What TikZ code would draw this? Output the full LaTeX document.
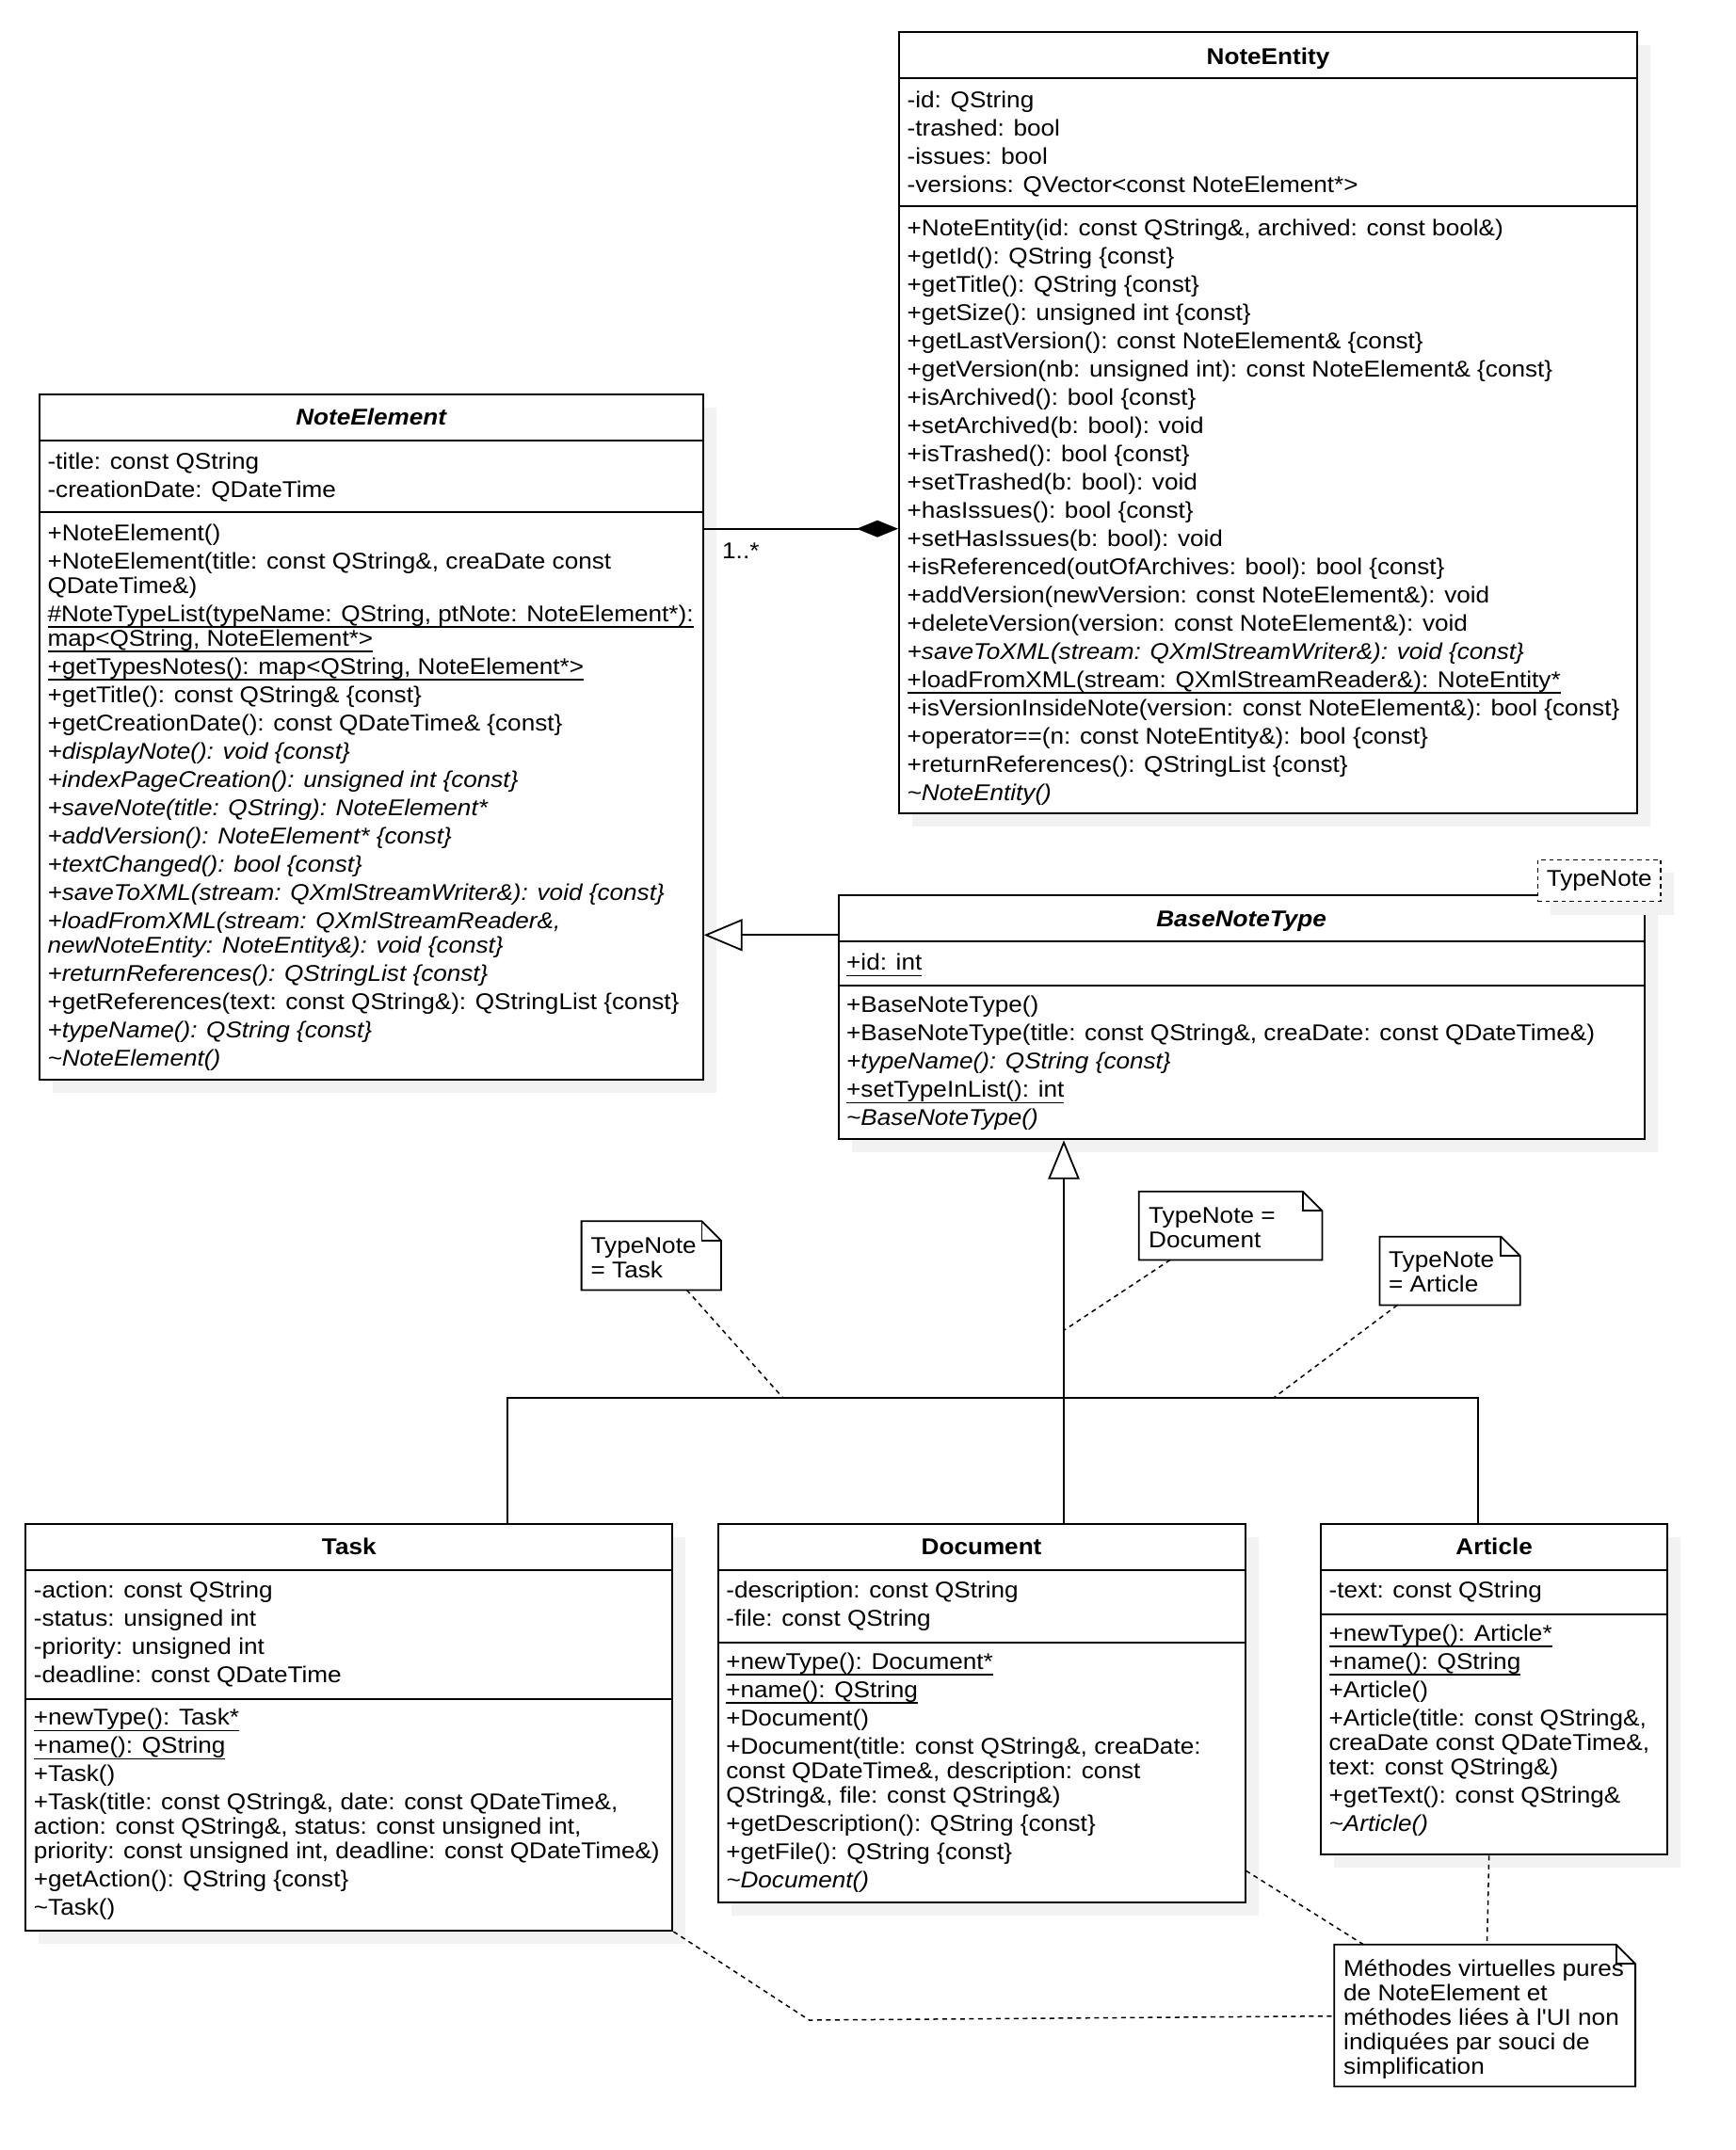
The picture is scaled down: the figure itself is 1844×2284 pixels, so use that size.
\documentclass[tikz,border=0pt]{standalone}
\usepackage{fontspec}
\newfontfamily\uml{Liberation Sans}[FakeStretch=1.08]
\usetikzlibrary{arrows.meta,shadows}
\newcommand\umlsize{\fontsize{24.2pt}{30pt}\selectfont}
\newcommand\notesize{\fontsize{24.2pt}{26pt}\selectfont}
\newcommand\is{\rule[-8pt]{0pt}{30pt}}
\newcommand\ns{\rule[-6.5pt]{0pt}{26pt}}
\newcommand\ulx[1]{\setbox0\hbox{#1}\rlap{\rule[-6.5pt]{\wd0}{1.6pt}}\box0}
\newcommand\wrap{\\[-4pt]}
\newcommand\tld{\textasciitilde}
\begin{document}
\begin{tikzpicture}[x=1pt,y=-1pt,
  every node/.style={font=\uml\umlsize},
  classbox/.style={draw=black,line width=2pt,fill=white,inner sep=0pt,anchor=north west,
    drop shadow={shadow xshift=14pt,shadow yshift=-14pt,fill=black!5,opacity=1}},
  sepline/.style={line width=2pt},
  title/.style={anchor=base,inner sep=0pt,font=\uml\umlsize\bfseries},
  comp/.style={anchor=north west,inner sep=0pt,align=left},
  notebox/.style={inner sep=0pt,anchor=north west},
  noteline/.style={draw=black,line width=1.8pt,fill=white,line join=miter},
  notetext/.style={anchor=north west,inner sep=0pt,align=left,font=\uml\notesize},
  conn/.style={line width=1.8pt},
  anchorline/.style={line width=1.5pt,dash pattern=on 5pt off 4.5pt},
  tmpl/.style={draw=black,line width=1.5pt,dash pattern=on 4.5pt off 4pt,fill=white,
    minimum width=130.7pt,minimum height=44.4pt,inner sep=0pt,text height=17pt,text depth=5pt,
    drop shadow={shadow xshift=14pt,shadow yshift=-14pt,fill=black!5,opacity=1}},
  lbl/.style={inner sep=0pt,anchor=base west}
]
\useasboundingbox[fill=white] (0,0) rectangle (1844,2284);

% ---------------- NoteEntity ----------------
\node[classbox,minimum width=784pt,minimum height=829.7pt] (noteentity) at (954,33.3) {};
\draw[sepline] (noteentity.west |- 0,83) -- (noteentity.east |- 0,83);
\draw[sepline] (noteentity.west |- 0,219.3) -- (noteentity.east |- 0,219.3);
\node[title] (noteentity-t) at (noteentity.north |- 0,68.3) {NoteEntity};
\node[comp] (noteentity-a) at (963.5,92.3) {\is-id: QString\\-trashed: bool\\-issues: bool\\-versions: QVector<const NoteElement*>};
\node[comp] (noteentity-m) at (963.5,228) {\is+NoteEntity(id: const QString\&, archived: const bool\&)\\
+getId(): QString \{const\}\\
+getTitle(): QString \{const\}\\
+getSize(): unsigned int \{const\}\\
+getLastVersion(): const NoteElement\& \{const\}\\
+getVersion(nb: unsigned int): const NoteElement\& \{const\}\\
+isArchived(): bool \{const\}\\
+setArchived(b: bool): void\\
+isTrashed(): bool \{const\}\\
+setTrashed(b: bool): void\\
+hasIssues(): bool \{const\}\\
+setHasIssues(b: bool): void\\
+isReferenced(outOfArchives: bool): bool \{const\}\\
+addVersion(newVersion: const NoteElement\&): void\\
+deleteVersion(version: const NoteElement\&): void\\
\textit{+saveToXML(stream: QXmlStreamWriter\&): void \{const\}}\\
\ulx{+loadFromXML(stream: QXmlStreamReader\&): NoteEntity*}\\
+isVersionInsideNote(version: const NoteElement\&): bool \{const\}\\
+operator==(n: const NoteEntity\&): bool \{const\}\\
+returnReferences(): QStringList \{const\}\\
\textit{\tld NoteEntity()}};

% ---------------- NoteElement ----------------
\node[classbox,minimum width=704.9pt,minimum height=728.3pt] (noteelement) at (40.8,417.7) {};
\draw[sepline] (noteelement.west |- 0,467.7) -- (noteelement.east |- 0,467.7);
\draw[sepline] (noteelement.west |- 0,544) -- (noteelement.east |- 0,544);
\node[title] (noteelement-t) at (noteelement.north |- 0,451.7) {\itshape NoteElement};
\node[comp] (noteelement-a) at (50.3,476.3) {\is-title: const QString\\-creationDate: QDateTime};
\node[comp] (noteelement-m) at (50.3,552.3) {\is+NoteElement()\\
+NoteElement(title: const QString\&, creaDate const\wrap
QDateTime\&)\\
\ulx{\#NoteTypeList(typeName: QString, ptNote: NoteElement*):}\wrap
\ulx{map<QString, NoteElement*>}\\
\ulx{+getTypesNotes(): map<QString, NoteElement*>}\\
+getTitle(): const QString\& \{const\}\\
+getCreationDate(): const QDateTime\& \{const\}\\
\textit{+displayNote(): void \{const\}}\\
\textit{+indexPageCreation(): unsigned int \{const\}}\\
\textit{+saveNote(title: QString): NoteElement*}\\
\textit{+addVersion(): NoteElement* \{const\}}\\
\textit{+textChanged(): bool \{const\}}\\
\textit{+saveToXML(stream: QXmlStreamWriter\&): void \{const\}}\\
\textit{+loadFromXML(stream: QXmlStreamReader\&,}\wrap
\textit{newNoteEntity: NoteEntity\&): void \{const\}}\\
\textit{+returnReferences(): QStringList \{const\}}\\
+getReferences(text: const QString\&): QStringList \{const\}\\
\textit{+typeName(): QString \{const\}}\\
\textit{\tld NoteElement()}};

% ---------------- BaseNoteType ----------------
\node[classbox,minimum width=856.2pt,minimum height=259.3pt] (basenotetype) at (889.5,950) {};
\draw[sepline] (basenotetype.west |- 0,999.5) -- (basenotetype.east |- 0,999.5);
\draw[sepline] (basenotetype.west |- 0,1046.5) -- (basenotetype.east |- 0,1046.5);
\node[title] (basenotetype-t) at (basenotetype.north |- 0,984.5) {\itshape BaseNoteType};
\node[comp] (basenotetype-a) at (899,1008.5) {\is\ulx{+id: int}};
\node[comp] (basenotetype-m) at (899,1053.5) {\is+BaseNoteType()\\
+BaseNoteType(title: const QString\&, creaDate: const QDateTime\&)\\
\textit{+typeName(): QString \{const\}}\\
\ulx{+setTypeInList(): int}\\
\textit{\tld BaseNoteType()}};
\node[tmpl] (typenote) at (1698.7,935.5) {TypeNote};

% ---------------- Task ----------------
\node[classbox,minimum width=687.2pt,minimum height=432.3pt] (task) at (26.2,1617.7) {};
\draw[sepline] (task.west |- 0,1667.7) -- (task.east |- 0,1667.7);
\draw[sepline] (task.west |- 0,1804.6) -- (task.east |- 0,1804.6);
\node[title] (task-t) at (task.north |- 0,1651.2) {Task};
\node[comp] (task-a) at (35.7,1675.2) {\is-action: const QString\\-status: unsigned int\\-priority: unsigned int\\-deadline: const QDateTime};
\node[comp] (task-m) at (35.7,1810.6) {\is\ulx{+newType(): Task*}\\
\ulx{+name(): QString}\\
+Task()\\
+Task(title: const QString\&, date: const QDateTime\&,\wrap
action: const QString\&, status: const unsigned int,\wrap
priority: const unsigned int, deadline: const QDateTime\&)\\
+getAction(): QString \{const\}\\
\tld Task()};

% ---------------- Document ----------------
\node[classbox,minimum width=559.9pt,minimum height=402.3pt] (document) at (761.6,1617.7) {};
\draw[sepline] (document.west |- 0,1667.7) -- (document.east |- 0,1667.7);
\draw[sepline] (document.west |- 0,1745) -- (document.east |- 0,1745);
\node[title] (document-t) at (document.north |- 0,1651.2) {Document};
\node[comp] (document-a) at (771.1,1675.2) {\is-description: const QString\\-file: const QString};
\node[comp] (document-m) at (771.1,1751) {\is\ulx{+newType(): Document*}\\
\ulx{+name(): QString}\\
+Document()\\
+Document(title: const QString\&, creaDate:\wrap
const QDateTime\&, description: const\wrap
QString\&, file: const QString\&)\\
+getDescription(): QString \{const\}\\
+getFile(): QString \{const\}\\
\textit{\tld Document()}};

% ---------------- Article ----------------
\node[classbox,minimum width=368.3pt,minimum height=351.6pt] (article) at (1402,1617.7) {};
\draw[sepline] (article.west |- 0,1667.7) -- (article.east |- 0,1667.7);
\draw[sepline] (article.west |- 0,1715.2) -- (article.east |- 0,1715.2);
\node[title] (article-t) at (article.north |- 0,1651.2) {Article};
\node[comp] (article-a) at (1411.5,1675.2) {\is-text: const QString};
\node[comp] (article-m) at (1411.5,1721.2) {\is\ulx{+newType(): Article*}\\
\ulx{+name(): QString}\\
+Article()\\
+Article(title: const QString\&,\wrap
creaDate const QDateTime\&,\wrap
text: const QString\&)\\
+getText(): const QString\&\\
\textit{\tld Article()}};

% ---------------- Notes ----------------
\newcommand\notefold[1]{%
  \draw[noteline] (#1.north west) -- ([xshift=-20.5pt]#1.north east) -- ([yshift=-20.5pt]#1.north east) -- (#1.south east) -- (#1.south west) -- cycle;
  \draw[noteline,fill=none] ([xshift=-20.5pt]#1.north east) -- ([xshift=-20.5pt,yshift=-20.5pt]#1.north east) -- ([yshift=-20.5pt]#1.north east);}
\node[notebox,minimum width=148pt,minimum height=72.7pt] (ntask) at (617.6,1297.3) {};
\notefold{ntask}
\node[notetext] (ntask-t) at (627.5,1312.2) {\ns TypeNote\\= Task};
\node[notebox,minimum width=194.3pt,minimum height=72.3pt] (ndoc) at (1209.7,1265.7) {};
\notefold{ndoc}
\node[notetext] (ndoc-t) at (1220,1279.8) {\ns TypeNote =\\Document};
\node[notebox,minimum width=148.9pt,minimum height=72.3pt] (nart) at (1465.5,1313.7) {};
\notefold{nart}
\node[notetext] (nart-t) at (1475,1327.2) {\ns TypeNote\\= Article};
\node[notebox,minimum width=319.4pt,minimum height=150.3pt] (nbig) at (1417.3,2065.7) {};
\notefold{nbig}
\node[notetext] (nbig-t) at (1427,2079.5) {\ns Méthodes virtuelles pures\\de NoteElement et\\méthodes liées à l'UI non\\indiquées par souci de\\simplification};

% ---------------- Connectors ----------------
\draw[conn,-{Diamond[length=44pt,width=18pt]}] (noteelement.east |- 0,561.7) -- (noteentity.west |- 0,561.7);
\node[lbl] (mult) at (767,593) {1..*};
\draw[conn,-{Triangle[length=41pt,width=34pt,fill=white]}] (basenotetype.west |- 0,993.3) -- (noteelement.east |- 0,993.3);

\coordinate (jl) at (539,1485.3);
\coordinate (jr) at (1570,1485.3);
\coordinate (jv) at (1130,1413.3);
\draw[conn] (task.north -| jl) -- (jl) -- (jr) -- (article.north -| jr);
\draw[conn,-{Triangle[length=41.4pt,width=33.4pt,fill=white]}] (document.north -| jv) -- (basenotetype.south -| jv);

\draw[anchorline] (ntask.south -| 729.5,0) -- (jl -| 832,0);
\draw[anchorline] (ndoc.south -| 1243,0) -- (jv);
\draw[anchorline] (nart.south -| 1484.3,0) -- (jl -| 1352.4,0);
\draw[anchorline] (task.south east) -- (859.6,2146) -- (nbig.west |- 0,2141.7);
\draw[anchorline] (document.east |- 0,1987.3) -- (nbig.north -| 1448.3,0);
\draw[anchorline] (article.south -| 1581.7,0) -- (nbig.north -| 1579.5,0);
\end{tikzpicture}
\end{document}
